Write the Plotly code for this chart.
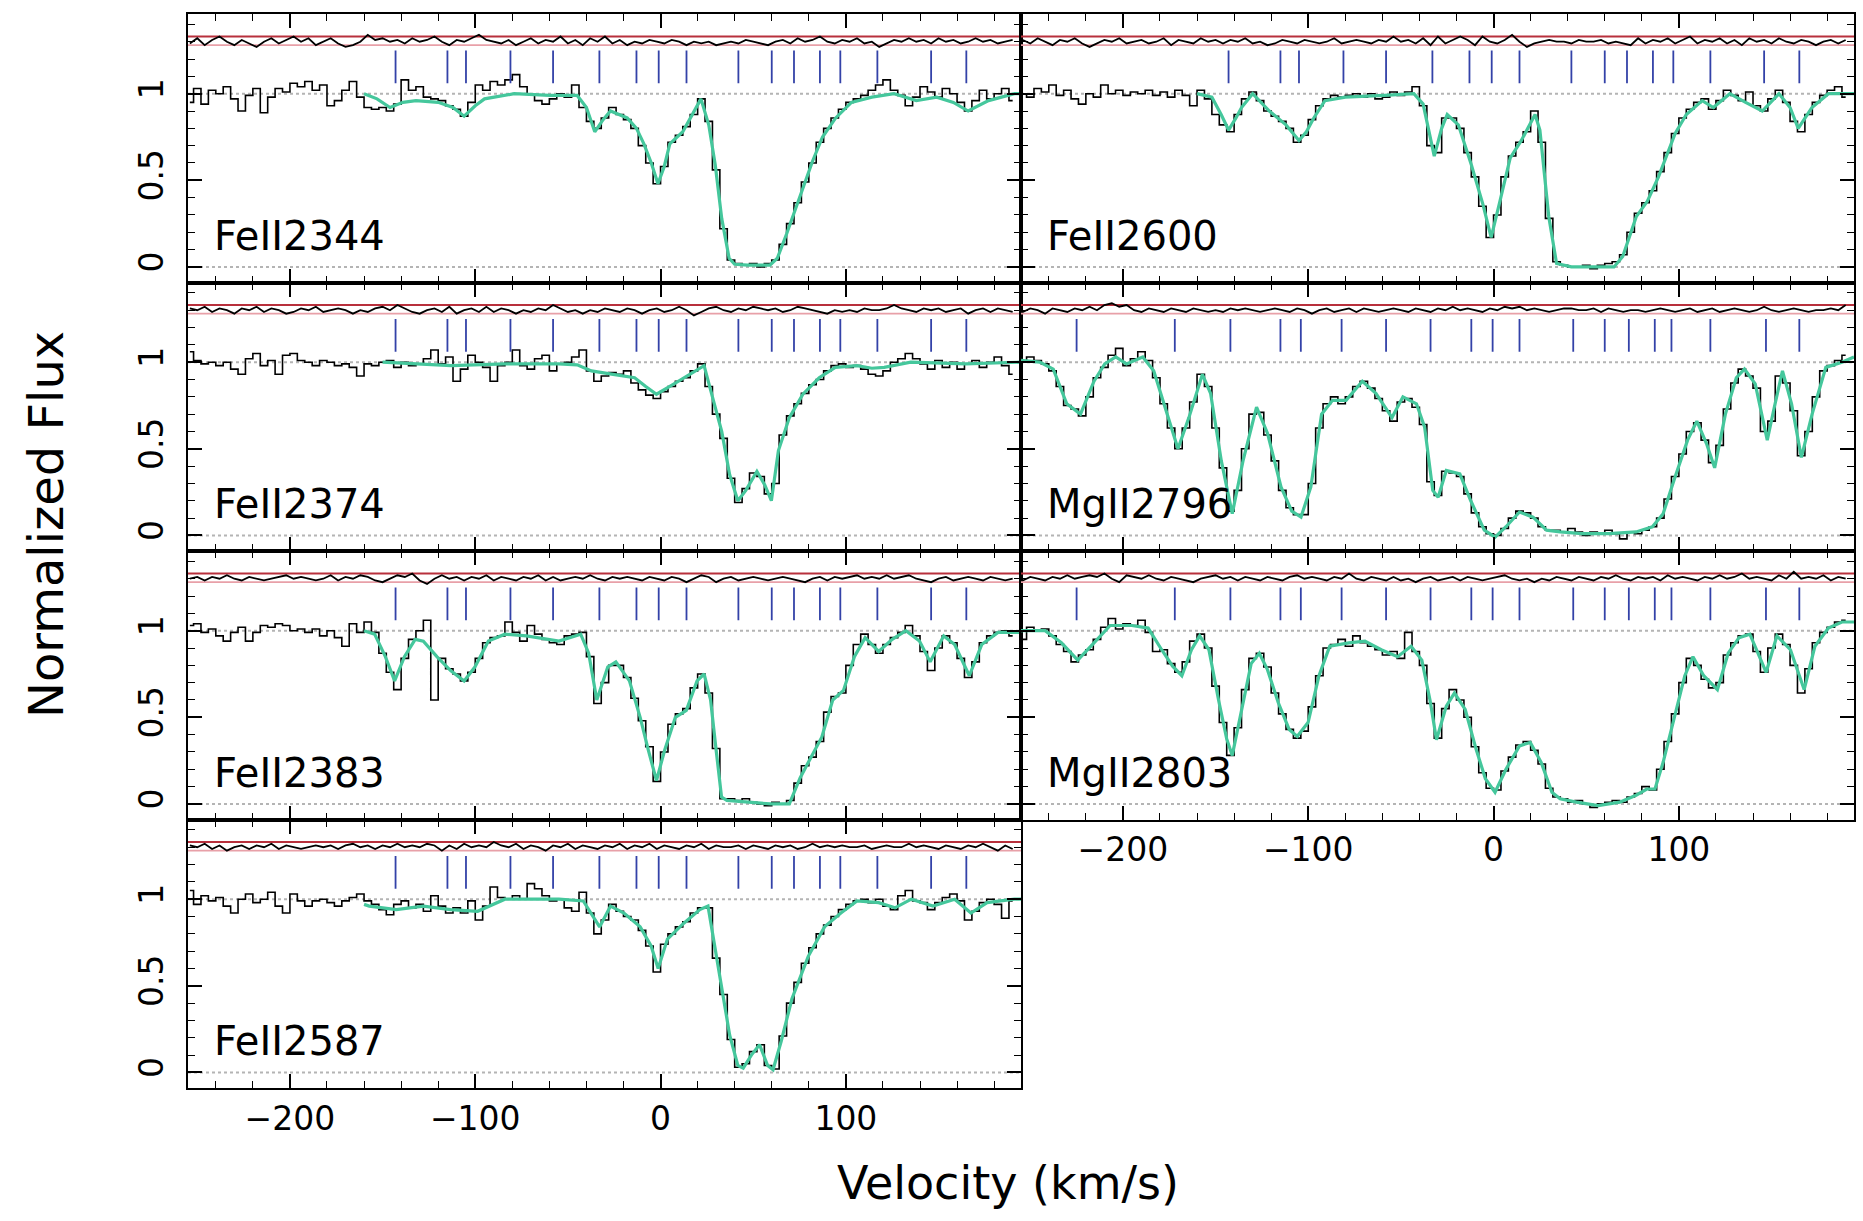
import plotly.graph_objects as go

# ---------------- data ----------------
VEL = [-254, -250, -246, -242, -238, -234, -230, -226, -222, -218,
       -214, -210, -206, -202, -198, -194, -190, -186, -182, -178,
       -174, -170, -166, -162, -158, -154, -150, -146, -142, -138,
       -134, -130, -126, -122, -118, -114, -110, -106, -102, -98,
       -94, -90, -86, -82, -78, -74, -70, -66, -62, -58,
       -54, -50, -46, -42, -38, -34, -30, -26, -22, -18,
       -14, -10, -6, -2, 2, 6, 10, 14, 18, 22,
       26, 30, 34, 38, 42, 46, 50, 54, 58, 62,
       66, 70, 74, 78, 82, 86, 90, 94, 98, 102,
       106, 110, 114, 118, 122, 126, 130, 134, 138, 142,
       146, 150, 154, 158, 162, 166, 170, 174, 178, 182,
       186, 190]

FLUX_2344 = [0.95, 1.03, 0.94, 1.02, 1.00, 1.04, 0.97, 0.90, 0.99, 1.03,
             0.89, 0.98, 1.03, 1.01, 1.06, 1.04, 1.07, 1.02, 1.05, 0.93,
             0.96, 1.02, 1.07, 0.98, 0.92, 0.91, 0.92, 0.90, 0.94, 1.08,
             1.02, 1.04, 0.98, 0.97, 0.96, 0.93, 0.91, 0.87, 0.95, 1.05,
             1.02, 1.07, 1.05, 1.08, 1.11, 1.04, 1.00, 0.96, 0.94, 0.97,
             1.00, 0.98, 1.05, 0.92, 0.84, 0.80, 0.86, 0.92, 0.88, 0.85,
             0.80, 0.70, 0.60, 0.48, 0.58, 0.72, 0.76, 0.81, 0.88, 0.97,
             0.84, 0.56, 0.22, 0.04, 0.02, 0.01, 0.02, 0.00, 0.02, 0.04,
             0.13, 0.25, 0.37, 0.49, 0.60, 0.72, 0.80, 0.86, 0.91, 0.95,
             0.97, 0.99, 1.02, 1.05, 1.08, 1.02, 0.99, 0.93, 0.98, 1.04,
             1.01, 0.98, 1.03, 1.00, 0.95, 0.90, 0.96, 1.02, 0.97, 1.00,
             1.03, 0.96]

FLUX_2600 = [1.00, 0.98, 1.03, 1.01, 1.05, 0.99, 1.02, 0.97, 0.94, 1.00,
             0.98, 1.05, 1.00, 1.02, 0.99, 1.01, 1.00, 1.02, 0.99, 1.01,
             0.98, 1.02, 0.99, 0.93, 1.02, 0.97, 0.88, 0.82, 0.78, 0.88,
             0.97, 1.01, 0.96, 0.90, 0.87, 0.84, 0.80, 0.72, 0.76, 0.85,
             0.93, 0.97, 0.99, 0.98, 0.99, 1.00, 0.98, 1.00, 0.97, 0.98,
             1.01, 0.99, 1.01, 1.04, 0.93, 0.70, 0.66, 0.86, 0.86, 0.80,
             0.66, 0.52, 0.35, 0.17, 0.30, 0.52, 0.64, 0.72, 0.78, 0.90,
             0.72, 0.28, 0.03, 0.01, 0.00, 0.00, 0.01, -0.01, 0.01, 0.02,
             0.03, 0.07, 0.20, 0.31, 0.37, 0.44, 0.55, 0.66, 0.77, 0.86,
             0.91, 0.95, 0.97, 0.91, 0.96, 1.02, 0.99, 0.96, 1.01, 0.93,
             0.90, 0.97, 1.02, 0.95, 0.84, 0.78, 0.88, 0.95, 0.99, 1.02,
             1.04, 0.98]

FLUX_2374 = [1.06, 1.01, 0.99, 1.00, 0.98, 1.00, 0.96, 0.93, 1.02, 1.05,
             0.98, 1.01, 0.93, 1.04, 1.05, 1.01, 1.00, 0.98, 1.01, 1.00,
             0.98, 0.99, 0.97, 0.92, 0.99, 0.98, 1.00, 1.01, 0.97, 1.00,
             0.98, 0.99, 1.02, 1.07, 0.99, 1.03, 0.89, 0.96, 1.04, 1.00,
             0.97, 0.89, 0.98, 1.00, 1.07, 0.98, 0.96, 1.02, 1.04, 0.95,
             0.99, 1.00, 1.03, 1.07, 0.95, 0.89, 0.92, 0.94, 0.93, 0.95,
             0.88, 0.84, 0.81, 0.79, 0.83, 0.86, 0.89, 0.91, 0.95, 0.99,
             0.86, 0.70, 0.56, 0.33, 0.19, 0.27, 0.36, 0.34, 0.24, 0.30,
             0.58, 0.69, 0.76, 0.82, 0.87, 0.90, 0.95, 0.98, 0.99, 0.97,
             0.98, 0.96, 0.93, 0.92, 0.95, 1.00, 1.02, 1.05, 1.02, 0.99,
             0.96, 1.01, 0.97, 1.00, 0.96, 0.99, 1.01, 0.97, 1.00, 1.03,
             0.98, 0.93]

FLUX_2383 = [1.03, 1.04, 0.99, 1.01, 0.97, 0.94, 0.99, 1.02, 0.94, 0.99,
             1.03, 1.02, 1.04, 1.03, 1.00, 1.01, 0.99, 1.01, 0.97, 1.00,
             0.96, 0.91, 1.04, 0.99, 1.05, 0.99, 0.87, 0.76, 0.66, 0.84,
             0.95, 1.00, 1.06, 0.60, 0.84, 0.78, 0.75, 0.71, 0.76, 0.84,
             0.93, 0.96, 0.97, 1.05, 0.99, 0.94, 1.03, 0.98, 0.95, 0.93,
             0.92, 0.97, 0.98, 0.99, 0.85, 0.58, 0.70, 0.80, 0.80, 0.73,
             0.61, 0.48, 0.33, 0.13, 0.30, 0.46, 0.52, 0.55, 0.67, 0.75,
             0.64, 0.32, 0.03, 0.03, 0.02, 0.03, 0.01, 0.00, -0.01, 0.01,
             0.00, 0.02, 0.12, 0.22, 0.27, 0.36, 0.53, 0.62, 0.64, 0.80,
             0.92, 0.98, 0.92, 0.87, 0.92, 0.96, 0.99, 1.03, 0.97, 0.88,
             0.77, 0.90, 0.97, 0.93, 0.84, 0.73, 0.82, 0.93, 0.97, 0.99,
             1.00, 0.97]

FLUX_2587 = [1.05, 0.97, 1.02, 0.99, 1.01, 0.96, 0.92, 1.00, 1.03, 0.98,
             1.00, 1.04, 0.96, 0.92, 1.03, 0.99, 0.96, 0.99, 1.00, 0.98,
             0.96, 0.99, 1.01, 1.03, 0.99, 0.97, 0.94, 0.91, 0.97, 0.99,
             0.95, 0.97, 0.93, 1.02, 0.96, 0.92, 0.95, 0.92, 0.99, 0.88,
             0.96, 1.07, 1.01, 1.00, 1.02, 1.00, 1.09, 1.06, 1.02, 0.99,
             1.00, 0.95, 0.93, 1.04, 0.92, 0.80, 0.88, 0.97, 0.93, 0.90,
             0.88, 0.82, 0.73, 0.58, 0.74, 0.80, 0.84, 0.87, 0.92, 0.95,
             0.95, 0.66, 0.45, 0.19, 0.03, 0.05, 0.12, 0.16, 0.04, 0.02,
             0.21, 0.40, 0.52, 0.63, 0.72, 0.80, 0.85, 0.90, 0.94, 0.97,
             0.99, 1.00, 0.98, 1.00, 0.96, 0.94, 1.02, 1.05, 0.99, 0.98,
             0.94, 0.98, 1.01, 1.03, 0.99, 0.88, 0.93, 0.98, 1.00, 0.97,
             0.89, 0.99]

FLUX_2796 = [1.00, 1.03, 1.01, 0.99, 0.95, 0.86, 0.75, 0.73, 0.69, 0.80,
             0.91, 0.97, 1.04, 1.08, 0.98, 1.02, 1.06, 1.01, 0.91, 0.76,
             0.62, 0.50, 0.62, 0.77, 0.93, 0.86, 0.62, 0.39, 0.14, 0.26,
             0.50, 0.70, 0.71, 0.58, 0.43, 0.26, 0.16, 0.12, 0.12, 0.30,
             0.62, 0.76, 0.80, 0.76, 0.80, 0.86, 0.89, 0.85, 0.79, 0.72,
             0.66, 0.77, 0.79, 0.74, 0.64, 0.31, 0.23, 0.37, 0.36, 0.34,
             0.24, 0.13, 0.05, 0.01, 0.00, 0.04, 0.10, 0.14, 0.13, 0.10,
             0.05, 0.03, 0.03, 0.02, 0.04, 0.02, 0.00, 0.02, 0.01, 0.03,
             0.01, -0.02, 0.02, 0.01, 0.03, 0.05, 0.10, 0.21, 0.34, 0.47,
             0.60, 0.65, 0.55, 0.42, 0.52, 0.73, 0.88, 0.96, 0.92, 0.85,
             0.60, 0.66, 0.92, 0.88, 0.72, 0.46, 0.60, 0.80, 0.95, 0.98,
             1.01, 1.04]

FLUX_2803 = [0.95, 1.02, 1.00, 1.01, 0.97, 0.92, 0.88, 0.82, 0.86, 0.89,
             0.95, 1.02, 1.07, 1.01, 1.04, 1.03, 1.06, 0.99, 0.88, 0.89,
             0.81, 0.76, 0.82, 0.94, 0.98, 0.90, 0.68, 0.47, 0.28, 0.44,
             0.66, 0.84, 0.87, 0.79, 0.64, 0.52, 0.43, 0.38, 0.42, 0.56,
             0.74, 0.90, 0.92, 0.95, 0.91, 0.97, 0.93, 0.91, 0.89, 0.86,
             0.88, 0.84, 0.99, 0.88, 0.80, 0.58, 0.38, 0.55, 0.66, 0.60,
             0.50, 0.33, 0.18, 0.09, 0.08, 0.19, 0.27, 0.34, 0.36, 0.31,
             0.23, 0.09, 0.04, 0.03, 0.01, 0.02, 0.00, -0.02, 0.00, 0.01,
             0.02, 0.01, 0.04, 0.06, 0.10, 0.08, 0.20, 0.36, 0.52, 0.70,
             0.84, 0.80, 0.72, 0.67, 0.70, 0.86, 0.93, 0.97, 0.98, 0.88,
             0.76, 0.90, 0.98, 0.92, 0.80, 0.64, 0.78, 0.93, 0.99, 1.02,
             1.05, 1.06]

# residual spectra (plotted offset above the data)
RES_2344 = [1.29, 1.32, 1.28, 1.31, 1.33, 1.30, 1.28, 1.31, 1.29, 1.27,
            1.30, 1.32, 1.29, 1.31, 1.33, 1.30, 1.32, 1.28, 1.30, 1.32,
            1.29, 1.27, 1.28, 1.30, 1.34, 1.31, 1.32, 1.30, 1.31, 1.29,
            1.32, 1.30, 1.31, 1.33, 1.30, 1.28, 1.31, 1.30, 1.32, 1.34,
            1.31, 1.30, 1.29, 1.31, 1.28, 1.30, 1.32, 1.29, 1.31, 1.30,
            1.33, 1.29, 1.31, 1.28, 1.32, 1.30, 1.33, 1.29, 1.31, 1.28,
            1.30, 1.29, 1.31, 1.30, 1.29, 1.31, 1.30, 1.28, 1.30, 1.29,
            1.30, 1.28, 1.29, 1.30, 1.29, 1.31, 1.30, 1.29, 1.28, 1.30,
            1.31, 1.29, 1.32, 1.30, 1.31, 1.33, 1.30, 1.29, 1.31, 1.30,
            1.32, 1.29, 1.30, 1.27, 1.29, 1.31, 1.30, 1.32, 1.30, 1.31,
            1.29, 1.32, 1.30, 1.31, 1.29, 1.30, 1.32, 1.30, 1.31, 1.29,
            1.30, 1.31]

RES_2600 = [1.31, 1.29, 1.32, 1.30, 1.28, 1.31, 1.30, 1.32, 1.29, 1.27,
            1.29, 1.31, 1.30, 1.32, 1.29, 1.30, 1.31, 1.29, 1.30, 1.32,
            1.28, 1.31, 1.30, 1.29, 1.32, 1.30, 1.31, 1.29, 1.31, 1.30,
            1.32, 1.29, 1.30, 1.28, 1.29, 1.31, 1.30, 1.29, 1.31, 1.30,
            1.29, 1.30, 1.32, 1.29, 1.30, 1.31, 1.30, 1.29, 1.31, 1.30,
            1.33, 1.30, 1.31, 1.29, 1.32, 1.28, 1.33, 1.29, 1.31, 1.33,
            1.31, 1.28, 1.33, 1.30, 1.29, 1.31, 1.34, 1.30, 1.27, 1.29,
            1.30, 1.31, 1.30, 1.30, 1.29, 1.31, 1.30, 1.30, 1.31, 1.29,
            1.30, 1.29, 1.28, 1.32, 1.29, 1.31, 1.30, 1.32, 1.29, 1.31,
            1.33, 1.29, 1.31, 1.30, 1.32, 1.29, 1.31, 1.28, 1.32, 1.30,
            1.31, 1.29, 1.32, 1.30, 1.29, 1.31, 1.30, 1.28, 1.30, 1.31,
            1.29, 1.31]

RES_2374 = [1.31, 1.30, 1.32, 1.29, 1.31, 1.30, 1.28, 1.31, 1.30, 1.32,
            1.29, 1.31, 1.30, 1.28, 1.29, 1.31, 1.30, 1.32, 1.29, 1.30,
            1.31, 1.30, 1.28, 1.30, 1.29, 1.31, 1.32, 1.30, 1.33, 1.31,
            1.29, 1.28, 1.30, 1.31, 1.29, 1.32, 1.28, 1.30, 1.31, 1.29,
            1.32, 1.29, 1.31, 1.30, 1.28, 1.30, 1.29, 1.31, 1.30, 1.33,
            1.31, 1.29, 1.30, 1.28, 1.30, 1.29, 1.31, 1.30, 1.29, 1.31,
            1.30, 1.28, 1.30, 1.31, 1.29, 1.30, 1.32, 1.30, 1.27, 1.29,
            1.31, 1.32, 1.30, 1.29, 1.31, 1.30, 1.32, 1.31, 1.30, 1.31,
            1.29, 1.30, 1.32, 1.31, 1.30, 1.29, 1.28, 1.30, 1.29, 1.30,
            1.29, 1.31, 1.30, 1.30, 1.31, 1.33, 1.31, 1.30, 1.29, 1.31,
            1.30, 1.31, 1.29, 1.30, 1.31, 1.28, 1.30, 1.31, 1.29, 1.31,
            1.30, 1.29]

RES_2796 = [1.29, 1.31, 1.30, 1.28, 1.31, 1.30, 1.29, 1.31, 1.30, 1.32,
            1.30, 1.33, 1.34, 1.32, 1.33, 1.30, 1.29, 1.31, 1.30, 1.29,
            1.31, 1.30, 1.29, 1.31, 1.30, 1.29, 1.30, 1.29, 1.31, 1.30,
            1.31, 1.30, 1.29, 1.30, 1.31, 1.30, 1.29, 1.31, 1.30, 1.28,
            1.30, 1.31, 1.29, 1.30, 1.31, 1.29, 1.31, 1.30, 1.29, 1.30,
            1.31, 1.30, 1.29, 1.31, 1.30, 1.29, 1.31, 1.30, 1.32, 1.30,
            1.31, 1.30, 1.29, 1.31, 1.30, 1.32, 1.31, 1.32, 1.30, 1.31,
            1.30, 1.29, 1.30, 1.31, 1.31, 1.30, 1.30, 1.31, 1.29, 1.31,
            1.30, 1.29, 1.30, 1.30, 1.29, 1.30, 1.31, 1.30, 1.29, 1.30,
            1.31, 1.29, 1.30, 1.31, 1.29, 1.30, 1.31, 1.30, 1.29, 1.30,
            1.32, 1.30, 1.29, 1.30, 1.31, 1.30, 1.29, 1.30, 1.30, 1.31,
            1.30, 1.33]

RES_2383 = [1.30, 1.31, 1.29, 1.31, 1.30, 1.32, 1.30, 1.29, 1.31, 1.30,
            1.29, 1.30, 1.31, 1.32, 1.30, 1.31, 1.30, 1.29, 1.30, 1.32,
            1.29, 1.31, 1.30, 1.32, 1.31, 1.29, 1.28, 1.30, 1.32, 1.31,
            1.33, 1.29, 1.27, 1.30, 1.32, 1.30, 1.31, 1.29, 1.31, 1.30,
            1.32, 1.29, 1.31, 1.30, 1.29, 1.31, 1.30, 1.32, 1.29, 1.31,
            1.29, 1.30, 1.31, 1.30, 1.32, 1.30, 1.29, 1.31, 1.30, 1.31,
            1.30, 1.29, 1.31, 1.30, 1.29, 1.31, 1.30, 1.28, 1.30, 1.32,
            1.31, 1.28, 1.30, 1.31, 1.29, 1.30, 1.31, 1.30, 1.29, 1.30,
            1.31, 1.30, 1.29, 1.28, 1.30, 1.31, 1.29, 1.31, 1.30, 1.31,
            1.32, 1.30, 1.31, 1.30, 1.32, 1.30, 1.31, 1.32, 1.30, 1.29,
            1.28, 1.30, 1.31, 1.29, 1.30, 1.31, 1.30, 1.29, 1.31, 1.30,
            1.29, 1.30]

RES_2803 = [1.29, 1.31, 1.30, 1.29, 1.31, 1.30, 1.32, 1.30, 1.31, 1.32,
            1.31, 1.33, 1.30, 1.28, 1.32, 1.31, 1.30, 1.32, 1.30, 1.29,
            1.31, 1.30, 1.29, 1.28, 1.30, 1.31, 1.32, 1.30, 1.31, 1.29,
            1.31, 1.30, 1.29, 1.31, 1.30, 1.29, 1.31, 1.32, 1.30, 1.31,
            1.30, 1.29, 1.31, 1.30, 1.33, 1.30, 1.29, 1.31, 1.30, 1.29,
            1.31, 1.29, 1.30, 1.28, 1.30, 1.31, 1.29, 1.30, 1.31, 1.29,
            1.31, 1.30, 1.29, 1.30, 1.31, 1.32, 1.30, 1.29, 1.30, 1.28,
            1.30, 1.29, 1.31, 1.30, 1.29, 1.31, 1.30, 1.29, 1.31, 1.30,
            1.32, 1.30, 1.29, 1.31, 1.30, 1.31, 1.29, 1.32, 1.30, 1.31,
            1.30, 1.29, 1.31, 1.30, 1.32, 1.30, 1.31, 1.33, 1.30, 1.31,
            1.30, 1.29, 1.32, 1.30, 1.34, 1.30, 1.31, 1.30, 1.32, 1.29,
            1.31, 1.30]

RES_2587 = [1.31, 1.30, 1.32, 1.29, 1.31, 1.28, 1.30, 1.31, 1.29, 1.31,
            1.30, 1.32, 1.29, 1.31, 1.30, 1.29, 1.30, 1.31, 1.30, 1.31,
            1.29, 1.31, 1.32, 1.30, 1.31, 1.29, 1.31, 1.30, 1.32, 1.30,
            1.31, 1.30, 1.32, 1.31, 1.28, 1.31, 1.29, 1.32, 1.30, 1.31,
            1.30, 1.33, 1.31, 1.30, 1.32, 1.29, 1.31, 1.30, 1.28, 1.31,
            1.30, 1.32, 1.29, 1.31, 1.30, 1.29, 1.31, 1.30, 1.32, 1.29,
            1.31, 1.30, 1.32, 1.29, 1.31, 1.30, 1.29, 1.31, 1.30, 1.32,
            1.29, 1.31, 1.30, 1.30, 1.31, 1.29, 1.31, 1.30, 1.29, 1.31,
            1.30, 1.31, 1.29, 1.30, 1.32, 1.30, 1.31, 1.30, 1.31, 1.30,
            1.30, 1.31, 1.29, 1.30, 1.31, 1.30, 1.30, 1.32, 1.30, 1.31,
            1.30, 1.29, 1.31, 1.30, 1.29, 1.31, 1.30, 1.32, 1.30, 1.28,
            1.31, 1.29]

# Voigt-profile model fits (velocity knots, normalized flux)
MODEL_V_2344 = [-160, -153, -146, -139, -132, -120, -112, -106, -100, -95, -79, -60, -45, -40,
                -35.5, -31, -27, -18, -13, -9, -5, -1.4, 2, 5, 12, 17, 21.8, 26, 29.5, 33, 37,
                40, 47, 59, 63, 68, 75, 82, 87.4, 94.5, 103, 114, 126, 138, 149, 158, 166,
                177, 191, 194.5]
MODEL_F_2344 = [1.0, 0.97, 0.92, 0.95, 0.96, 0.95, 0.92, 0.87, 0.93, 0.97, 1.0, 0.99, 0.99, 0.92,
                0.78, 0.85, 0.90, 0.86, 0.80, 0.71, 0.60, 0.48, 0.58, 0.71, 0.78, 0.88, 0.97,
                0.82, 0.59, 0.28, 0.05, 0.015, 0.01, 0.01, 0.05, 0.19, 0.40, 0.61, 0.75, 0.86,
                0.95, 0.98, 1.0, 0.96, 0.98, 0.95, 0.90, 0.96, 1.0, 1.0]

MODEL_V_2600 = [-160, -152, -147, -143, -139, -136, -130, -121, -112, -105, -101, -97, -91, -80,
                -59, -43, -38, -35, -32, -28, -25, -19, -12, -5.7, -1.3, 3, 9, 15, 22.4, 25,
                29.8, 34, 42, 65, 69.7, 77, 83, 89, 98, 104, 112.6, 118.6, 127.5, 136, 145,
                154, 160, 164.4, 171.8, 180.7, 194.5]
MODEL_F_2600 = [1.0, 0.98, 0.88, 0.79, 0.86, 0.92, 1.0, 0.90, 0.82, 0.73, 0.78, 0.86, 0.96, 0.98,
                0.99, 1.0, 0.94, 0.78, 0.64, 0.80, 0.88, 0.82, 0.59, 0.36, 0.17, 0.36, 0.63,
                0.73, 0.88, 0.79, 0.29, 0.02, 0.0, 0.0, 0.06, 0.29, 0.38, 0.52, 0.77, 0.88,
                0.96, 0.92, 1.0, 0.95, 0.90, 1.0, 0.92, 0.80, 0.92, 1.0, 1.0]

MODEL_V_2374 = [-150, -113, -84, -55, -45, -37.3, -25.6, -14, -8, -2.2, 6.6, 15.4, 23.5, 28.5,
                33, 37.3, 41.7, 46, 52, 56.3, 59.8, 63.6, 69.5, 76.8, 85.6, 94.3, 106, 114,
                120.7, 135, 164.5, 194.5]
MODEL_F_2374 = [1.0, 0.98, 0.99, 0.99, 0.985, 0.95, 0.93, 0.91, 0.86, 0.815, 0.87, 0.93, 0.98,
                0.78, 0.60, 0.35, 0.20, 0.26, 0.37, 0.29, 0.20, 0.49, 0.68, 0.815, 0.91, 0.97,
                0.98, 0.965, 0.97, 1.0, 0.99, 1.0]

MODEL_V_2383 = [-160, -154.3, -148.5, -143.5, -138.2, -132.4, -128, -120.7, -113.3, -106, -100.2,
                -92.9, -84, -72.4, -54.8, -43.1, -38.8, -34.4, -28.5, -24.1, -16.8, -11, -6.6,
                -2.2, 2.2, 8, 13.9, 19.7, 23.5, 27, 30, 32.9, 35.8, 47.5, 59.2, 69.5, 75.3,
                81.2, 87, 92.9, 98.7, 104.6, 110.4, 117.7, 125, 132.4, 139.7, 145.5, 152.8,
                158.7, 166.6, 173.3, 182.1, 194.5]
MODEL_F_2383 = [1.0, 0.98, 0.85, 0.71, 0.85, 0.95, 0.94, 0.85, 0.77, 0.71, 0.79, 0.94, 0.98,
                0.97, 0.94, 0.98, 0.87, 0.60, 0.79, 0.82, 0.71, 0.50, 0.31, 0.135, 0.31, 0.50,
                0.54, 0.71, 0.75, 0.60, 0.31, 0.04, 0.02, 0.01, 0.0, 0.0, 0.15, 0.27, 0.385,
                0.60, 0.655, 0.85, 0.96, 0.88, 0.95, 1.0, 0.94, 0.82, 0.97, 0.92, 0.74, 0.92,
                0.99, 0.99]

MODEL_V_2587 = [-160, -157.2, -142.6, -128, -113.3, -98.7, -84, -54.8, -41.7, -32.9, -27, -19.8,
                -11, -5.1, -1.3, 3.7, 12.4, 21.2, 25.6, 28.5, 32.9, 37.3, 41.7, 44.6, 49, 53.4,
                57.8, 60.7, 65.1, 70.9, 79.7, 88.5, 97.3, 106, 117.7, 126.5, 135.3, 147, 158.7,
                167.5, 176.2, 190.9, 194.5]
MODEL_F_2587 = [0.97, 0.96, 0.94, 0.96, 0.94, 0.93, 1.0, 1.0, 0.99, 0.84, 0.96, 0.92, 0.84, 0.73,
                0.60, 0.77, 0.86, 0.94, 0.96, 0.77, 0.50, 0.215, 0.04, 0.025, 0.10, 0.16, 0.04,
                0.015, 0.18, 0.425, 0.67, 0.84, 0.92, 0.99, 0.98, 0.95, 1.0, 0.96, 1.0, 0.92,
                0.98, 1.0, 1.0]

MODEL_V_2796 = [-255, -244.9, -237.6, -230.3, -222.9, -215.6, -209.8, -203.9, -198.1, -189.3,
                -183.4, -176.1, -170.3, -164.4, -157.1, -152.7, -146.9, -141, -135.2, -127.9,
                -122, -114.7, -108.9, -103.9, -98.6, -92.8, -86.9, -79.6, -70.8, -63.5, -54.8,
                -48.9, -41.6, -37.2, -32.8, -29.9, -25.5, -18.2, -12.3, -5, 0.8, 6.7, 14, 21.3,
                28.6, 35.9, 47.6, 62.3, 76.9, 85.7, 91.5, 97.4, 104.7, 109.7, 114.9, 119.3,
                125.1, 131, 135.4, 141.2, 147.7, 151.5, 155.9, 160.8, 166.1, 171.9, 179.3, 188,
                194.5]
MODEL_F_2796 = [1.01, 1.0, 0.96, 0.76, 0.70, 0.89, 0.99, 1.03, 0.99, 1.03, 0.95, 0.70, 0.50, 0.68,
                0.93, 0.82, 0.43, 0.125, 0.43, 0.74, 0.59, 0.28, 0.14, 0.106, 0.28, 0.70, 0.78,
                0.78, 0.89, 0.82, 0.68, 0.80, 0.76, 0.625, 0.26, 0.22, 0.375, 0.355, 0.20, 0.03,
                -0.01, 0.05, 0.135, 0.105, 0.03, 0.02, 0.01, 0.01, 0.02, 0.05, 0.125, 0.32, 0.55,
                0.66, 0.53, 0.39, 0.70, 0.91, 0.96, 0.875, 0.55, 0.74, 0.95, 0.76, 0.45, 0.70,
                0.97, 1.0, 1.03]

MODEL_V_2803 = [-255, -242, -233.2, -224.4, -215.6, -206.9, -195.2, -186.4, -179.1, -173.2,
                -168.2, -163, -158.6, -153.6, -148.4, -144, -141, -136.7, -130.8, -126.4, -122,
                -116.2, -110.3, -105.9, -100.1, -94.2, -88.4, -78.1, -69.4, -60.6, -51.8, -44.5,
                -38.7, -34.3, -30.8, -25.5, -21.1, -15.3, -9.4, -4.4, 0.8, 6.7, 14, 19.8, 25.7,
                31.5, 35.9, 44.7, 56.4, 68.1, 76.9, 82.7, 87.1, 91.5, 97.4, 103.2, 107.6, 113.4,
                120.8, 126.6, 132.5, 138.3, 147.1, 152.9, 160.2, 167.6, 173.4, 180.7, 188, 194.5]
MODEL_F_2803 = [1.0, 1.0, 0.93, 0.83, 0.93, 1.03, 1.03, 1.015, 0.89, 0.795, 0.74, 0.89, 0.97, 0.89,
                0.60, 0.375, 0.28, 0.51, 0.81, 0.87, 0.775, 0.585, 0.43, 0.39, 0.47, 0.74, 0.91,
                0.93, 0.94, 0.89, 0.85, 0.91, 0.83, 0.60, 0.37, 0.565, 0.64, 0.545, 0.315, 0.145,
                0.067, 0.20, 0.335, 0.355, 0.24, 0.067, 0.03, 0.01, -0.01, 0.01, 0.05, 0.086,
                0.086, 0.24, 0.49, 0.74, 0.85, 0.74, 0.66, 0.87, 0.96, 0.98, 0.76, 0.97, 0.89,
                0.66, 0.91, 1.015, 1.05, 1.05]

# fitted component velocities (blue ticks)
COMP_FE = [-143, -115, -105, -81, -58, -33, -13, -1, 14, 42, 60, 72, 86, 97, 117, 146, 165]
COMP_MG = [-225, -172, -142, -115, -104, -82, -58, -34, -12, -0.5, 14, 43, 60, 73, 87, 96, 117,
           147, 165]

PANEL_NAMES = ["FeII2344", "FeII2600", "FeII2374", "MgII2796", "FeII2383", "MgII2803", "FeII2587"]

X_RANGE = [-255, 194.5]
Y_RANGE = [-0.09, 1.46]
X_TICKS = [-200, -100, 0, 100]
Y_TICKS = [0, 0.5, 1]
Y_TICKTEXT = ["0", "0.5", "1"]
RESID_BAND = [1.28, 1.33]
TICK_SPAN = [1.06, 1.25]
GUIDE_LEVELS = [0, 1]

# ---------------- layout geometry (pixels) ----------------
W, H = 1863, 1221
COL_X = [(188, 1021), (1021, 1854)]
ROW_TOP = 14
ROW_H = 268.5

# panel table: name, flux, residual, model v, model f, components, col, row, xlabels, ylabels
PANELS = [
    (PANEL_NAMES[0], FLUX_2344, RES_2344, MODEL_V_2344, MODEL_F_2344, COMP_FE, 0, 0, False, True),
    (PANEL_NAMES[1], FLUX_2600, RES_2600, MODEL_V_2600, MODEL_F_2600, COMP_FE, 1, 0, False, False),
    (PANEL_NAMES[2], FLUX_2374, RES_2374, MODEL_V_2374, MODEL_F_2374, COMP_FE, 0, 1, False, True),
    (PANEL_NAMES[3], FLUX_2796, RES_2796, MODEL_V_2796, MODEL_F_2796, COMP_MG, 1, 1, False, False),
    (PANEL_NAMES[4], FLUX_2383, RES_2383, MODEL_V_2383, MODEL_F_2383, COMP_FE, 0, 2, False, True),
    (PANEL_NAMES[5], FLUX_2803, RES_2803, MODEL_V_2803, MODEL_F_2803, COMP_MG, 1, 2, True, False),
    (PANEL_NAMES[6], FLUX_2587, RES_2587, MODEL_V_2587, MODEL_F_2587, COMP_FE, 0, 3, True, True),
]

FONT = "DejaVu Sans, Liberation Sans, sans-serif"
GREEN = "#45c79c"
BLUE = "#3342a8"

fig = go.Figure()
layout = dict(width=W, height=H, margin=dict(l=0, r=0, t=0, b=0), autosize=False,
              paper_bgcolor="white", plot_bgcolor="white", showlegend=False)
shapes = []
annotations = []

for i, (name, flux, res, mv, mf, comps, col, row, xlab, ylab) in enumerate(PANELS, start=1):
    xa = "x" if i == 1 else f"x{i}"
    ya = "y" if i == 1 else f"y{i}"
    x0, x1 = COL_X[col]
    top = ROW_TOP + row * ROW_H
    bot = top + ROW_H
    xdom = [x0 / W, x1 / W]
    ydom = [1 - bot / H, 1 - top / H]

    n = min(len(VEL), len(flux))
    # data histogram
    fig.add_trace(go.Scatter(x=VEL[:n], y=flux[:n], mode="lines", line=dict(color="black", width=1.6, shape="hvh"),
                             xaxis=xa, yaxis=ya, hoverinfo="skip"))
    # model
    fig.add_trace(go.Scatter(x=mv, y=mf, mode="lines", line=dict(color=GREEN, width=3.2),
                             xaxis=xa, yaxis=ya, hoverinfo="skip"))
    # residual band lines
    fig.add_trace(go.Scatter(x=X_RANGE, y=[RESID_BAND[1]] * 2, mode="lines",
                             line=dict(color="#b8303c", width=1.8), xaxis=xa, yaxis=ya, hoverinfo="skip"))
    fig.add_trace(go.Scatter(x=X_RANGE, y=[RESID_BAND[0]] * 2, mode="lines",
                             line=dict(color="#e8a0a8", width=1.8), xaxis=xa, yaxis=ya, hoverinfo="skip"))
    # residual
    m = min(len(VEL), len(res))
    fig.add_trace(go.Scatter(x=VEL[:m], y=res[:m], mode="lines", line=dict(color="black", width=1.8),
                             xaxis=xa, yaxis=ya, hoverinfo="skip"))
    # component ticks
    tx, ty = [], []
    for c in comps:
        tx += [c, c, None]
        ty += [TICK_SPAN[0], TICK_SPAN[1], None]
    fig.add_trace(go.Scatter(x=tx, y=ty, mode="lines", line=dict(color=BLUE, width=1.8),
                             xaxis=xa, yaxis=ya, hoverinfo="skip"))
    # dotted guides at 0 and 1
    for lv in GUIDE_LEVELS:
        shapes.append(dict(type="line", xref=f"{xa} domain", yref=ya, x0=0, x1=1, y0=lv, y1=lv,
                           line=dict(color="#b4b4b4", width=2, dash="dot"), layer="below"))

    layout["xaxis" if i == 1 else f"xaxis{i}"] = dict(
        domain=xdom, anchor=ya, range=X_RANGE, showgrid=False, zeroline=False,
        showline=True, linecolor="black", linewidth=2, mirror="ticks",
        tickmode="array", tickvals=X_TICKS, ticks="inside", ticklen=14, tickwidth=1.6, tickcolor="black",
        minor=dict(tickmode="linear", tick0=0, dtick=20, ticks="inside", ticklen=7, tickwidth=1.4,
                   tickcolor="black", showgrid=False),
        showticklabels=xlab, tickfont=dict(family=FONT, size=33, color="black"))
    layout["yaxis" if i == 1 else f"yaxis{i}"] = dict(
        domain=ydom, anchor=xa, range=Y_RANGE, showgrid=False, zeroline=False,
        showline=True, linecolor="black", linewidth=2, mirror="ticks",
        tickmode="array", tickvals=Y_TICKS, ticktext=Y_TICKTEXT, tickangle=-90,
        ticks="inside", ticklen=14, tickwidth=1.6, tickcolor="black",
        minor=dict(tickmode="linear", tick0=0, dtick=0.1, ticks="inside", ticklen=7, tickwidth=1.4,
                   tickcolor="black", showgrid=False),
        showticklabels=ylab, ticklabelstandoff=10, tickfont=dict(family=FONT, size=33, color="black"))

    annotations.append(dict(x=-242, y=0.18, xref=xa, yref=ya, text=name, showarrow=False,
                            xanchor="left", yanchor="middle",
                            font=dict(family=FONT, size=40, color="black")))

annotations.append(dict(x=46 / W, y=1 - 525 / H, xref="paper", yref="paper", text="Normalized Flux",
                        textangle=-90, showarrow=False, xanchor="center", yanchor="middle",
                        font=dict(family=FONT, size=48, color="black")))
annotations.append(dict(x=1008 / W, y=1 - 1183 / H, xref="paper", yref="paper", text="Velocity (km/s)",
                        showarrow=False, xanchor="center", yanchor="middle",
                        font=dict(family=FONT, size=46, color="black")))

layout["shapes"] = shapes
layout["annotations"] = annotations
fig.update_layout(**layout)
fig.write_html("out.html", config={"displayModeBar": False},
               post_script="document.body.style.margin='0';document.body.style.overflow='hidden';")
